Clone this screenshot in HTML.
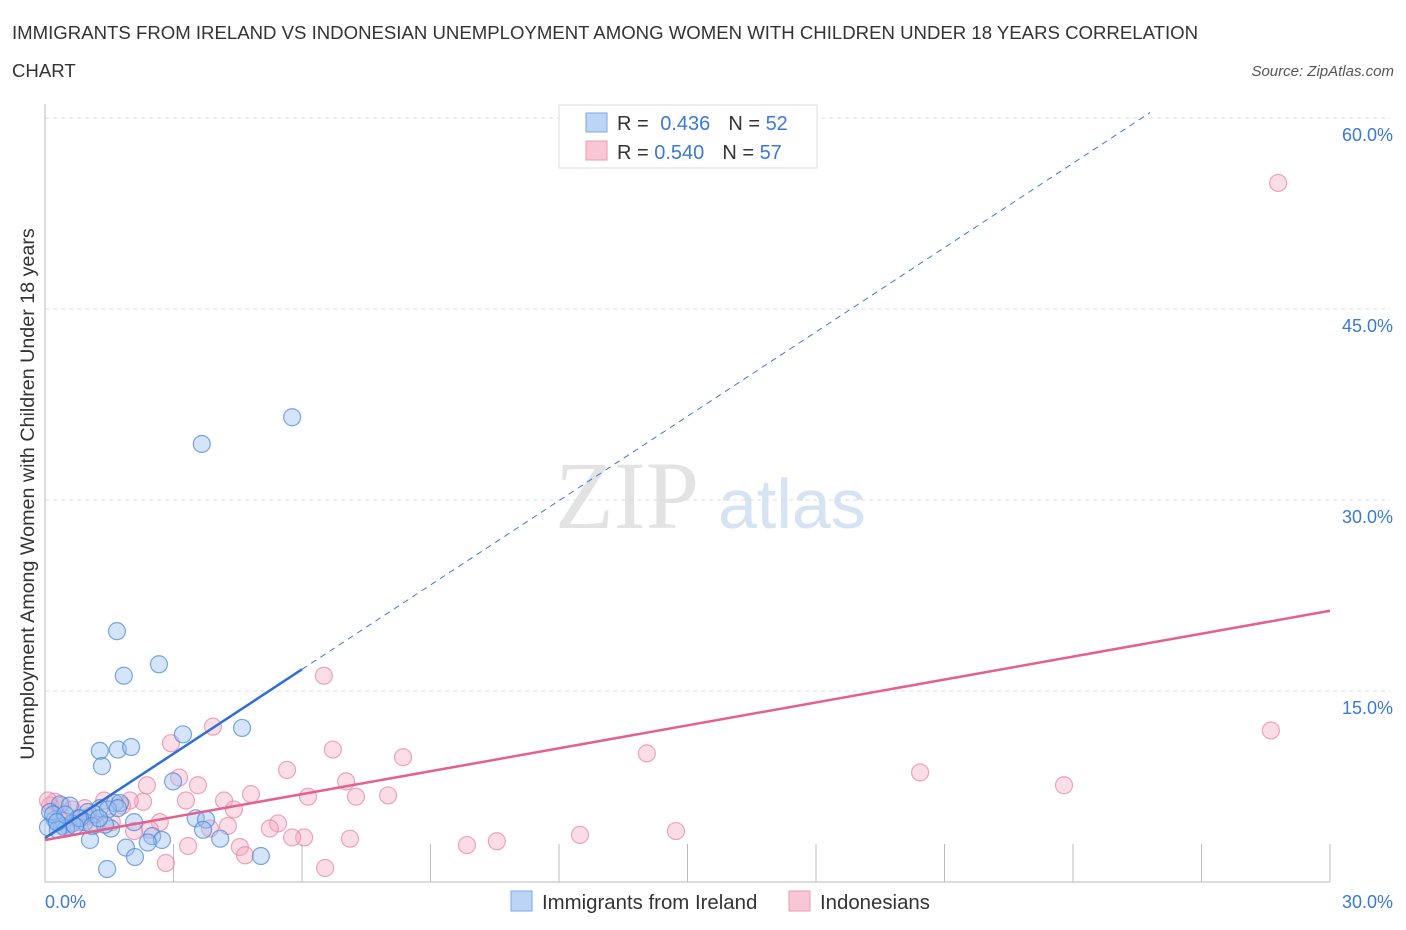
<!DOCTYPE html>
<html><head><meta charset="utf-8"><style>
body{margin:0;background:#fff;font-family:"Liberation Sans",sans-serif;}
svg{display:block}
</style></head><body>
<svg id="chart" width="1406" height="930">
<text x="12" y="39" font-size="18.6" fill="#333">IMMIGRANTS FROM IRELAND VS INDONESIAN UNEMPLOYMENT AMONG WOMEN WITH CHILDREN UNDER 18 YEARS CORRELATION</text>
<text x="12" y="77" font-size="18.6" fill="#333">CHART</text>
<text x="1394" y="76" font-size="15" fill="#555" font-style="italic" text-anchor="end">Source: ZipAtlas.com</text>
<text x="555" y="528" font-size="96" fill="#e3e3e3" font-family="Liberation Serif,serif">ZIP</text>
<text x="718" y="528" font-size="70" fill="#d5e3f3">atlas</text>
<text transform="translate(34,494) rotate(-90)" font-size="19.7" fill="#333" text-anchor="middle">Unemployment Among Women with Children Under 18 years</text>
<g id="grid"></g><g id="pts"></g><g id="lines"></g>
<g>
<rect x="559" y="105" width="258" height="63" fill="#fff" stroke="#ddd"/>
<rect x="586" y="113" width="21" height="19" fill="#bcd4f5" stroke="#7da8e8"/>
<rect x="586" y="141" width="21" height="19" fill="#f9c6d5" stroke="#ee9ab3"/>
<text x="617" y="130" font-size="20" fill="#333">R = <tspan fill="#3b78d8" dx="6">0.436</tspan><tspan dx="18" fill="#333">N = </tspan><tspan fill="#3b78d8">52</tspan></text>
<text x="617" y="159" font-size="20" fill="#333">R = <tspan fill="#3b78d8">0.540</tspan><tspan dx="18" fill="#333">N = </tspan><tspan fill="#3b78d8">57</tspan></text>
</g>
<g>
<rect x="511" y="891" width="21" height="20" fill="#bcd4f5" stroke="#7da8e8"/>
<text x="542" y="909" font-size="20.4" fill="#333">Immigrants from Ireland</text>
<rect x="789" y="891" width="21" height="20" fill="#f9c6d5" stroke="#ee9ab3"/>
<text x="820" y="909" font-size="20.4" fill="#333">Indonesians</text>
</g>
</svg>
<script>
const yTicks=[15,30,45,60];
const xTickLabels=["0.0%","30.0%"];
const blueX=[5.77,3.66,1.68,2.66,1.84,3.22,4.6,1.28,1.7,2.01,1.33,2.99,3.52,3.76,2.08,1.54,2.5,2.73,4.09,2.4,1.89,2.1,1.45,5.04,3.69,1.05,0.35,0.58,1.0,1.28,1.63,1.75,0.93,0.77,1.17,0.23,0.4,0.12,0.07,0.63,0.49,0.3,0.19,1.47,0.82,1.1,0.7,1.7,1.4,0.47,0.28,1.26];
const blueY=[36.5,34.4,19.7,17.1,16.2,11.6,12.1,10.3,10.4,10.6,9.1,7.9,5,4.9,4.7,4.2,3.6,3.3,3.4,3.1,2.7,1.96,1.02,2.04,4.1,3.3,6.1,6.0,5.5,5.8,6.2,6.2,4.7,5.0,5.3,4.9,4.4,5.5,4.3,4.6,4.2,4.1,5.3,5.7,5.0,4.4,4.4,5.8,4.5,5.3,4.7,5.0];
const pinkX=[28.79,6.51,28.62,14.05,8.36,6.72,2.94,3.92,20.43,23.79,7.03,8.01,7.26,3.13,2.38,3.57,4.81,5.65,6.14,3.29,4.18,4.41,2.29,1.98,1.8,1.38,14.73,12.49,10.55,9.85,7.12,6.05,5.77,5.44,5.25,4.27,3.85,2.68,2.45,2.08,4.55,4.67,3.34,2.82,6.54,0.4,0.63,1.05,0.93,0.23,0.12,0.35,0.82,1.56,1.19,0.54,0.07];
const pinkY=[54.9,16.2,11.9,10.1,9.8,10.4,10.9,12.2,8.6,7.6,7.9,6.8,6.7,8.2,7.6,7.6,6.9,8.8,6.7,6.4,6.4,5.7,6.3,6.4,6.0,6.4,4.0,3.7,3.2,2.9,3.4,3.5,3.5,4.6,4.2,4.4,4.2,4.7,4.1,4.0,2.75,2.1,2.83,1.49,1.1,6.0,5.7,5.2,5.8,6.3,6.0,4.9,4.7,4.7,4.5,4.4,6.4];
const blueLine={x0:0,y0:3.45,x1:6,y1:16.7,xEnd:25.8};
const pinkLine={x0:0,y0:3.3,x1:30,y1:21.3};
const X0=45,X1=1330,Y0=882,Y1=118;
const sx=v=>X0+(X1-X0)*v/30, sy=v=>Y0-(Y0-Y1)*v/60;
const NS="http://www.w3.org/2000/svg";
function mk(t,a,p){const e=document.createElementNS(NS,t);for(const k in a)e.setAttribute(k,a[k]);p.appendChild(e);return e;}
const grid=document.getElementById('grid');
yTicks.forEach(t=>{
 const l=mk('line',{x1:X0,x2:1390,y1:sy(t),y2:sy(t),stroke:'#ddd','stroke-dasharray':'4,4'},grid);
 
 
 const tx=mk('text',{x:1393,y:sy(t)+23,'font-size':18,fill:'#3b78d8','text-anchor':'end'},grid);
 tx.textContent=t.toFixed(1)+'%';
 
 
});
mk('line',{x1:X0,x2:X0,y1:104,y2:Y0,stroke:'#bbb'},grid);
mk('line',{x1:X0,x2:X1,y1:Y0,y2:Y0,stroke:'#bbb'},grid);
for(let i=1;i<=10;i++){const x=X0+i*(X1-X0)/10;mk('line',{x1:x,x2:x,y1:Y0-38,y2:Y0,stroke:'#bbb'},grid);}
const xl0=mk('text',{x:45,y:908,'font-size':18,fill:'#3b78d8'},grid);xl0.textContent=xTickLabels[0];


const xl1=mk('text',{x:1393,y:908,'font-size':18,fill:'#3b78d8','text-anchor':'end'},grid);xl1.textContent=xTickLabels[1];


const pts=document.getElementById('pts');
pinkX.forEach((x,i)=>{const c=mk('circle',{cx:sx(x),cy:sy(pinkY[i]),r:8.5,fill:'rgba(246,170,195,0.4)',stroke:'rgba(232,130,160,0.7)','stroke-width':1.2},pts);
 
 });
blueX.forEach((x,i)=>{const c=mk('circle',{cx:sx(x),cy:sy(blueY[i]),r:8.5,fill:'rgba(150,190,240,0.4)',stroke:'rgba(70,130,215,0.7)','stroke-width':1.2},pts);
 
 });
const lines=document.getElementById('lines');
const bs=(blueLine.y1-blueLine.y0)/(blueLine.x1-blueLine.x0);
const bd=mk('line',{x1:sx(blueLine.x1),y1:sy(blueLine.y1),x2:sx(blueLine.xEnd),y2:sy(blueLine.y0+bs*blueLine.xEnd),stroke:'#3b78d8','stroke-width':1,'stroke-dasharray':'6,5'},lines);


const bl=mk('line',{x1:sx(blueLine.x0),y1:sy(blueLine.y0),x2:sx(blueLine.x1),y2:sy(blueLine.y1),stroke:'#2e6fd6','stroke-width':2.5},lines);


const pl=mk('line',{x1:sx(pinkLine.x0),y1:sy(pinkLine.y0),x2:sx(pinkLine.x1),y2:sy(pinkLine.y1),stroke:'#e5608a','stroke-width':2.5},lines);


</script>
</body></html>
